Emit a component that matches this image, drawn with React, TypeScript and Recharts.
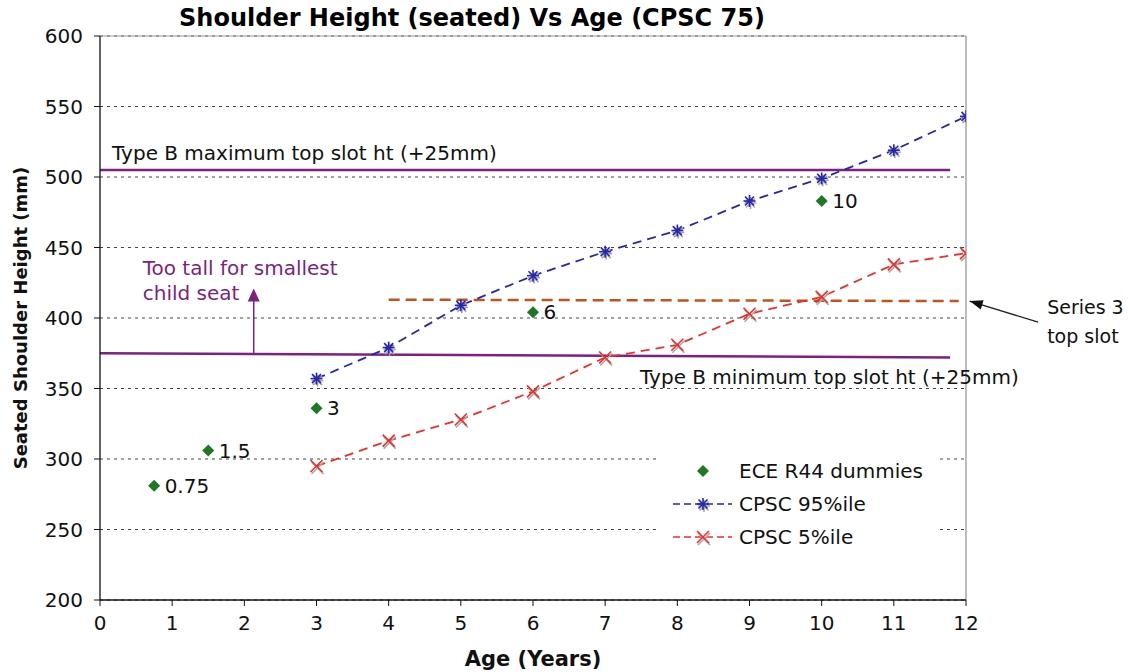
import {
  CartesianGrid,
  ComposedChart,
  LabelList,
  Line,
  ReferenceLine,
  Scatter,
  XAxis,
  YAxis,
} from "recharts";

const FONT = "'DejaVu Sans', Verdana, sans-serif";
const FS = 20;

const ageTicks = [0, 1, 2, 3, 4, 5, 6, 7, 8, 9, 10, 11, 12];
const heightTicks = [200, 250, 300, 350, 400, 450, 500, 550, 600];

// CPSC 75 percentiles, ages 3..12
const cpscAges = [3, 4, 5, 6, 7, 8, 9, 10, 11, 12];
const cpsc95 = [357, 379, 409, 430, 447, 462, 483, 499, 519, 543];
const cpsc5 = [295, 313, 328, 348, 372, 381, 403, 415, 438, 446];

// ECE R44 dummies
const dummyAges = [0.75, 1.5, 3, 6, 10];
const dummyHeights = [281, 306, 336, 404, 483];
const dummyLabels = ["0.75", "1.5", "3", "6", "10"];

// slot lines
const typeBMax = 505;
const typeBMinStart = 375;
const typeBMinEnd = 372;
const series3Start = 413;
const series3End = 412;

const p95Data = cpscAges.map((age, i) => ({ age, height: cpsc95[i] }));
const p5Data = cpscAges.map((age, i) => ({ age, height: cpsc5[i] }));
const dummyData = dummyAges.map((age, i) => ({
  age,
  height: dummyHeights[i],
  label: dummyLabels[i],
}));

const PURPLE = "#7d1f83";
const BLUE = "#2626b0";
const RED = "#ec2f2a";
const GREEN = "#1c7a24";
const BROWN = "#c0541a";

const Star = ({ cx, cy }: any) => {
  if (cx == null || cy == null) return null;
  const r = 6;
  const d = 4.5;
  const lines = (dx: number, dy: number, color: string) => (
    <g stroke={color} strokeWidth={1.6}>
      <line x1={cx + dx - r} y1={cy + dy} x2={cx + dx + r} y2={cy + dy} />
      <line x1={cx + dx} y1={cy + dy - r} x2={cx + dx} y2={cy + dy + r} />
      <line x1={cx + dx - d} y1={cy + dy - d} x2={cx + dx + d} y2={cy + dy + d} />
      <line x1={cx + dx - d} y1={cy + dy + d} x2={cx + dx + d} y2={cy + dy - d} />
    </g>
  );
  return (
    <g>
      {lines(1, 2, "#a8a8a8")}
      {lines(0, 0, BLUE)}
    </g>
  );
};

const Cross = ({ cx, cy }: any) => {
  if (cx == null || cy == null) return null;
  const r = 6;
  const lines = (dx: number, dy: number, color: string) => (
    <g stroke={color} strokeWidth={1.6}>
      <line x1={cx + dx - r} y1={cy + dy - r} x2={cx + dx + r} y2={cy + dy + r} />
      <line x1={cx + dx - r} y1={cy + dy + r} x2={cx + dx + r} y2={cy + dy - r} />
    </g>
  );
  return (
    <g>
      {lines(1, 2, "#a8a8a8")}
      {lines(0, 0, RED)}
    </g>
  );
};

const Diamond = ({ cx, cy }: any) => {
  if (cx == null || cy == null) return null;
  const r = 6;
  return (
    <polygon
      points={`${cx},${cy - r} ${cx + r},${cy} ${cx},${cy + r} ${cx - r},${cy}`}
      fill={GREEN}
    />
  );
};

const MaxShape = ({ x1, y1, x2, y2 }: any) => (
  <g>
    <line x1={x1} y1={y1} x2={x2} y2={y2} stroke={PURPLE} strokeWidth={2.5} />
    <text x={x1 + 12} y={y1 - 10} fontSize={FS} fill="#111" fontFamily={FONT}>
      Type B maximum top slot ht (+25mm)
    </text>
  </g>
);

const MinShape = ({ x1, y1, x2, y2 }: any) => (
  <g>
    <line x1={x1} y1={y1} x2={x2} y2={y2} stroke={PURPLE} strokeWidth={2.5} />
    <text x={x1 + 540} y={y1 + 31} fontSize={FS} fill="#111" fontFamily={FONT}>
      Type B minimum top slot ht (+25mm)
    </text>
  </g>
);

const TooTallShape = ({ x1, y1, x2, y2 }: any) => (
  <g>
    <line x1={x1} y1={y1} x2={x2} y2={y2 + 10} stroke={PURPLE} strokeWidth={1.5} />
    <polygon
      points={`${x2},${y2} ${x2 - 6},${y2 + 13} ${x2 + 6},${y2 + 13}`}
      fill={PURPLE}
    />
    <text x={x2 - 111} y={y2 - 13} fontSize={FS} fill={PURPLE} fontFamily={FONT}>
      Too tall for smallest
    </text>
    <text x={x2 - 111} y={y2 + 12} fontSize={FS} fill={PURPLE} fontFamily={FONT}>
      child seat
    </text>
  </g>
);

const Series3Arrow = ({ x1, y1, x2, y2 }: any) => {
  const ang = Math.atan2(y2 - y1, x2 - x1);
  const len = 14;
  const spread = 0.35;
  const ax = x2 - len * Math.cos(ang - spread);
  const ay = y2 - len * Math.sin(ang - spread);
  const bx = x2 - len * Math.cos(ang + spread);
  const by = y2 - len * Math.sin(ang + spread);
  return (
    <g>
      <line x1={x1} y1={y1} x2={x2} y2={y2} stroke="#222" strokeWidth={1.3} />
      <polygon points={`${x2},${y2} ${ax},${ay} ${bx},${by}`} fill="#111" />
      <text x={x1 + 9} y={y1 - 8} fontSize={19} fill="#111" fontFamily={FONT}>
        Series 3
      </text>
      <text x={x1 + 9} y={y1 + 21} fontSize={19} fill="#111" fontFamily={FONT}>
        top slot
      </text>
    </g>
  );
};

const legendItems = [
  { name: "ECE R44 dummies", kind: "diamond" },
  { name: "CPSC 95%ile", kind: "star" },
  { name: "CPSC 5%ile", kind: "cross" },
];

const LegendBox = () => (
  <svg
    width={280}
    height={105}
    style={{ position: "absolute", left: 660, top: 452, background: "#fff" }}
  >
    {legendItems.map((item, i) => {
      const y = 19 + i * 33;
      return (
        <g key={item.name}>
          {item.kind !== "diamond" && (
            <line
              x1={13}
              y1={y}
              x2={72}
              y2={y}
              stroke={item.kind === "star" ? BLUE : RED}
              strokeWidth={1.3}
              strokeDasharray="7 4"
            />
          )}
          {item.kind === "diamond" && <Diamond cx={43} cy={y} />}
          {item.kind === "star" && <Star cx={43} cy={y} />}
          {item.kind === "cross" && <Cross cx={43} cy={y} />}
          <text x={79} y={y + 7} fontSize={FS} fill="#111" fontFamily={FONT}>
            {item.name}
          </text>
        </g>
      );
    })}
  </svg>
);

export default function App() {
  return (
    <div
      style={{
        position: "absolute",
        left: 0,
        top: 0,
        width: 1130,
        height: 672,
        overflow: "hidden",
        background: "#fff",
        fontFamily: FONT,
      }}
    >
      <div
        style={{
          position: "absolute",
          left: 0,
          top: 4,
          width: 944,
          textAlign: "center",
          fontWeight: "bold",
          fontSize: 24,
          color: "#000",
          zIndex: 2,
        }}
      >
        Shoulder Height (seated) Vs Age (CPSC 75)
      </div>
      <ComposedChart
        width={1130}
        height={672}
        margin={{ top: 36, right: 164, bottom: 42, left: 40 }}
        style={{ fontFamily: FONT }}
      >
        <CartesianGrid
          vertical={false}
          stroke="#444"
          strokeDasharray="3 4"
          strokeWidth={1}
        />
        <XAxis
          type="number"
          dataKey="age"
          domain={[0, 12]}
          ticks={ageTicks}
          allowDataOverflow
          axisLine={{ stroke: "#111", strokeWidth: 1.3 }}
          tickLine={{ stroke: "#111" }}
          tickSize={6}
          tickMargin={10}
          tick={{ fill: "#111", fontSize: FS }}
          height={30}
          label={{
            value: "Age (Years)",
            position: "insideBottom",
            offset: -36,
            fontWeight: "bold",
            fontSize: 21,
            fill: "#111",
          }}
        />
        <YAxis
          type="number"
          domain={[200, 600]}
          ticks={heightTicks}
          allowDataOverflow
          width={60}
          axisLine={{ stroke: "#111", strokeWidth: 1.3 }}
          tickLine={{ stroke: "#111" }}
          tickSize={6}
          tickMargin={11}
          tick={{ fill: "#111", fontSize: FS }}
          label={{
            value: "Seated Shoulder Height (mm)",
            angle: -90,
            position: "insideLeft",
            offset: -19,
            fontWeight: "bold",
            fontSize: 18,
            fill: "#111",
            style: { textAnchor: "middle" },
          }}
        />
        <ReferenceLine y={600} stroke="#999" strokeWidth={1} />
        <ReferenceLine x={12} stroke="#999" strokeWidth={1.3} />
        <ReferenceLine
          segment={[
            { x: 0, y: typeBMax },
            { x: 11.78, y: typeBMax },
          ]}
          shape={MaxShape}
        />
        <ReferenceLine
          segment={[
            { x: 0, y: typeBMinStart },
            { x: 11.78, y: typeBMinEnd },
          ]}
          shape={MinShape}
        />
        <ReferenceLine
          segment={[
            { x: 2.13, y: 375 },
            { x: 2.13, y: 421 },
          ]}
          shape={TooTallShape}
        />
        <ReferenceLine
          segment={[
            { x: 4, y: series3Start },
            { x: 11.9, y: series3End },
          ]}
          stroke={BROWN}
          strokeWidth={2.5}
          strokeDasharray="11 6"
        />
        <ReferenceLine
          segment={[
            { x: 13, y: 397 },
            { x: 12.05, y: 412 },
          ]}
          ifOverflow="visible"
          shape={Series3Arrow}
        />
        <Line
          data={p95Data}
          dataKey="height"
          name="CPSC 95%ile"
          stroke={BLUE}
          strokeWidth={1.8}
          strokeDasharray="9 6"
          dot={<Star />}
          activeDot={false}
          isAnimationActive={false}
        />
        <Line
          data={p5Data}
          dataKey="height"
          name="CPSC 5%ile"
          stroke={RED}
          strokeWidth={1.8}
          strokeDasharray="9 6"
          dot={<Cross />}
          activeDot={false}
          isAnimationActive={false}
        />
        <Scatter
          data={dummyData}
          dataKey="height"
          name="ECE R44 dummies"
          shape={<Diamond />}
          isAnimationActive={false}
        >
          <LabelList
            dataKey="label"
            position="right"
            offset={6}
            fontSize={FS}
            fill="#111"
          />
        </Scatter>
      </ComposedChart>
      <LegendBox />
    </div>
  );
}
